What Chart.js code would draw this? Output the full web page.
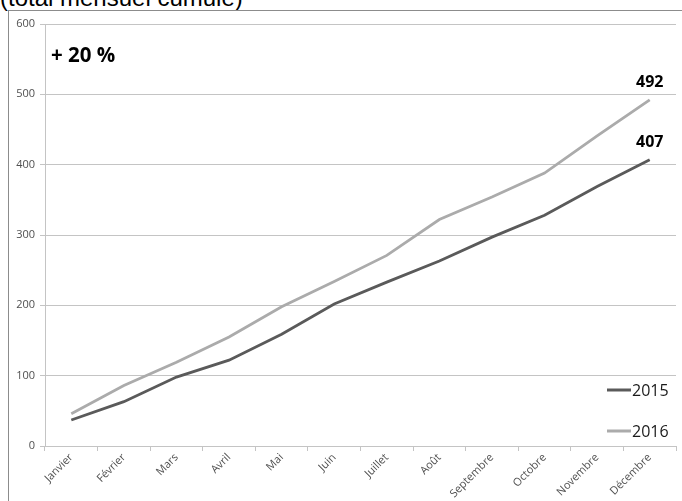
<!DOCTYPE html>
<html>
<head>
<meta charset="utf-8">
<script src="https://cdn.jsdelivr.net/npm/chart.js@4/dist/chart.umd.min.js"></script>
<style>
  html, body { margin: 0; padding: 0; background: #fff; overflow: hidden; }
  #wrap { position: relative; width: 682px; height: 501px; }
  #title {
    position: absolute; left: 0; top: -14px;
    font: 24px "Liberation Sans", Arial, sans-serif; color: #000;
    line-height: 24px; white-space: nowrap;
  }
  #frame {
    position: absolute; left: 8px; top: 10px; width: 680px; height: 500px;
    border-left: 1px solid #8c8c8c; border-top: 1px solid #8c8c8c;
  }
  #chart { position: absolute; left: 0; top: 0; }
</style>
</head>
<body>
<div id="wrap">
  <div id="title">(total mensuel cumulé)</div>
  <div id="frame"></div>
  <canvas id="chart" width="682" height="501"></canvas>
</div>
<script>
var months = ["Janvier", "Février", "Mars", "Avril", "Mai", "Juin", "Juillet",
  "Août", "Septembre", "Octobre", "Novembre", "Décembre"];
var values2015 = [37, 63, 98, 122, 159, 202, 233, 263, 297, 328, 369, 407];
var values2016 = [46, 86, 119, 155, 198, 234, 271, 322, 354, 388, 441, 492];
var seriesNames = ["2015", "2016"];
var yTicks = [0, 100, 200, 300, 400, 500, 600];
var growthText = "+ 20 %";

(function () {
  var textColor = "#505050";
  var gridColor = "#c4c4c4";

  // end labels, growth note and legend drawn on top of the plot
  var overlay = {
    id: "overlay",
    afterDatasetsDraw: function (chart) {
      var ctx = chart.ctx;
      var x = chart.scales.x;
      var y = chart.scales.y;
      var last = months.length - 1;
      ctx.save();
      ctx.fillStyle = "#000";
      ctx.textAlign = "center";
      ctx.textBaseline = "alphabetic";
      ctx.font = "bold 16px 'Open Sans', 'Noto Sans', sans-serif";
      chart.data.datasets.forEach(function (ds) {
        var v = ds.data[last];
        ctx.fillText(String(v), x.getPixelForValue(last), y.getPixelForValue(v) - 13);
      });

      ctx.textAlign = "left";
      ctx.font = "bold 20.5px 'Open Sans', 'Noto Sans', sans-serif";
      ctx.fillText(growthText, 51, 62);

      ctx.font = "16px 'Open Sans', 'Noto Sans', sans-serif";
      ctx.textBaseline = "middle";
      chart.data.datasets.forEach(function (ds, i) {
        var ly = 390 + i * 41;
        ctx.strokeStyle = ds.borderColor;
        ctx.lineWidth = 3;
        ctx.beginPath();
        ctx.moveTo(607, ly);
        ctx.lineTo(631, ly);
        ctx.stroke();
        ctx.fillStyle = "#1a1a1a";
        ctx.fillText(ds.label, 632, ly + 1);
      });
      ctx.restore();
    }
  };

  new Chart(document.getElementById("chart"), {
    type: "line",
    data: {
      labels: months,
      datasets: [{
        label: seriesNames[0],
        data: values2015,
        borderColor: "#5a5a5a",
        borderWidth: 2.8,
        pointRadius: 0,
        tension: 0,
        fill: false
      }, {
        label: seriesNames[1],
        data: values2016,
        borderColor: "#ababab",
        borderWidth: 2.8,
        pointRadius: 0,
        tension: 0,
        fill: false
      }]
    },
    options: {
      responsive: false,
      animation: false,
      layout: { padding: { top: 24, right: 6, left: 0, bottom: 0 } },
      plugins: {
        legend: { display: false },
        tooltip: { enabled: false },
        title: { display: false }
      },
      scales: {
        x: {
          offset: true,
          afterFit: function (scale) { scale.height = 55; },
          grid: {
            offset: true,
            drawOnChartArea: false,
            drawTicks: true,
            tickLength: 5,
            tickColor: gridColor
          },
          border: { color: gridColor, width: 1 },
          ticks: {
            color: textColor,
            minRotation: 45,
            maxRotation: 45,
            autoSkip: false,
            padding: 0,
            font: { size: 11, family: "'Open Sans', 'Noto Sans', sans-serif" }
          }
        },
        y: {
          min: 0,
          max: 600,
          afterFit: function (scale) { scale.width = 45; },
          afterBuildTicks: function (scale) {
            scale.ticks = yTicks.map(function (v) { return { value: v }; });
          },
          grid: {
            color: gridColor,
            lineWidth: 1,
            drawTicks: true,
            tickLength: 5,
            tickColor: gridColor
          },
          border: { color: gridColor, width: 1 },
          ticks: {
            color: textColor,
            padding: 5,
            font: { size: 11, family: "'Open Sans', 'Noto Sans', sans-serif" }
          }
        }
      }
    },
    plugins: [overlay]
  });
})();
</script>
</body>
</html>
